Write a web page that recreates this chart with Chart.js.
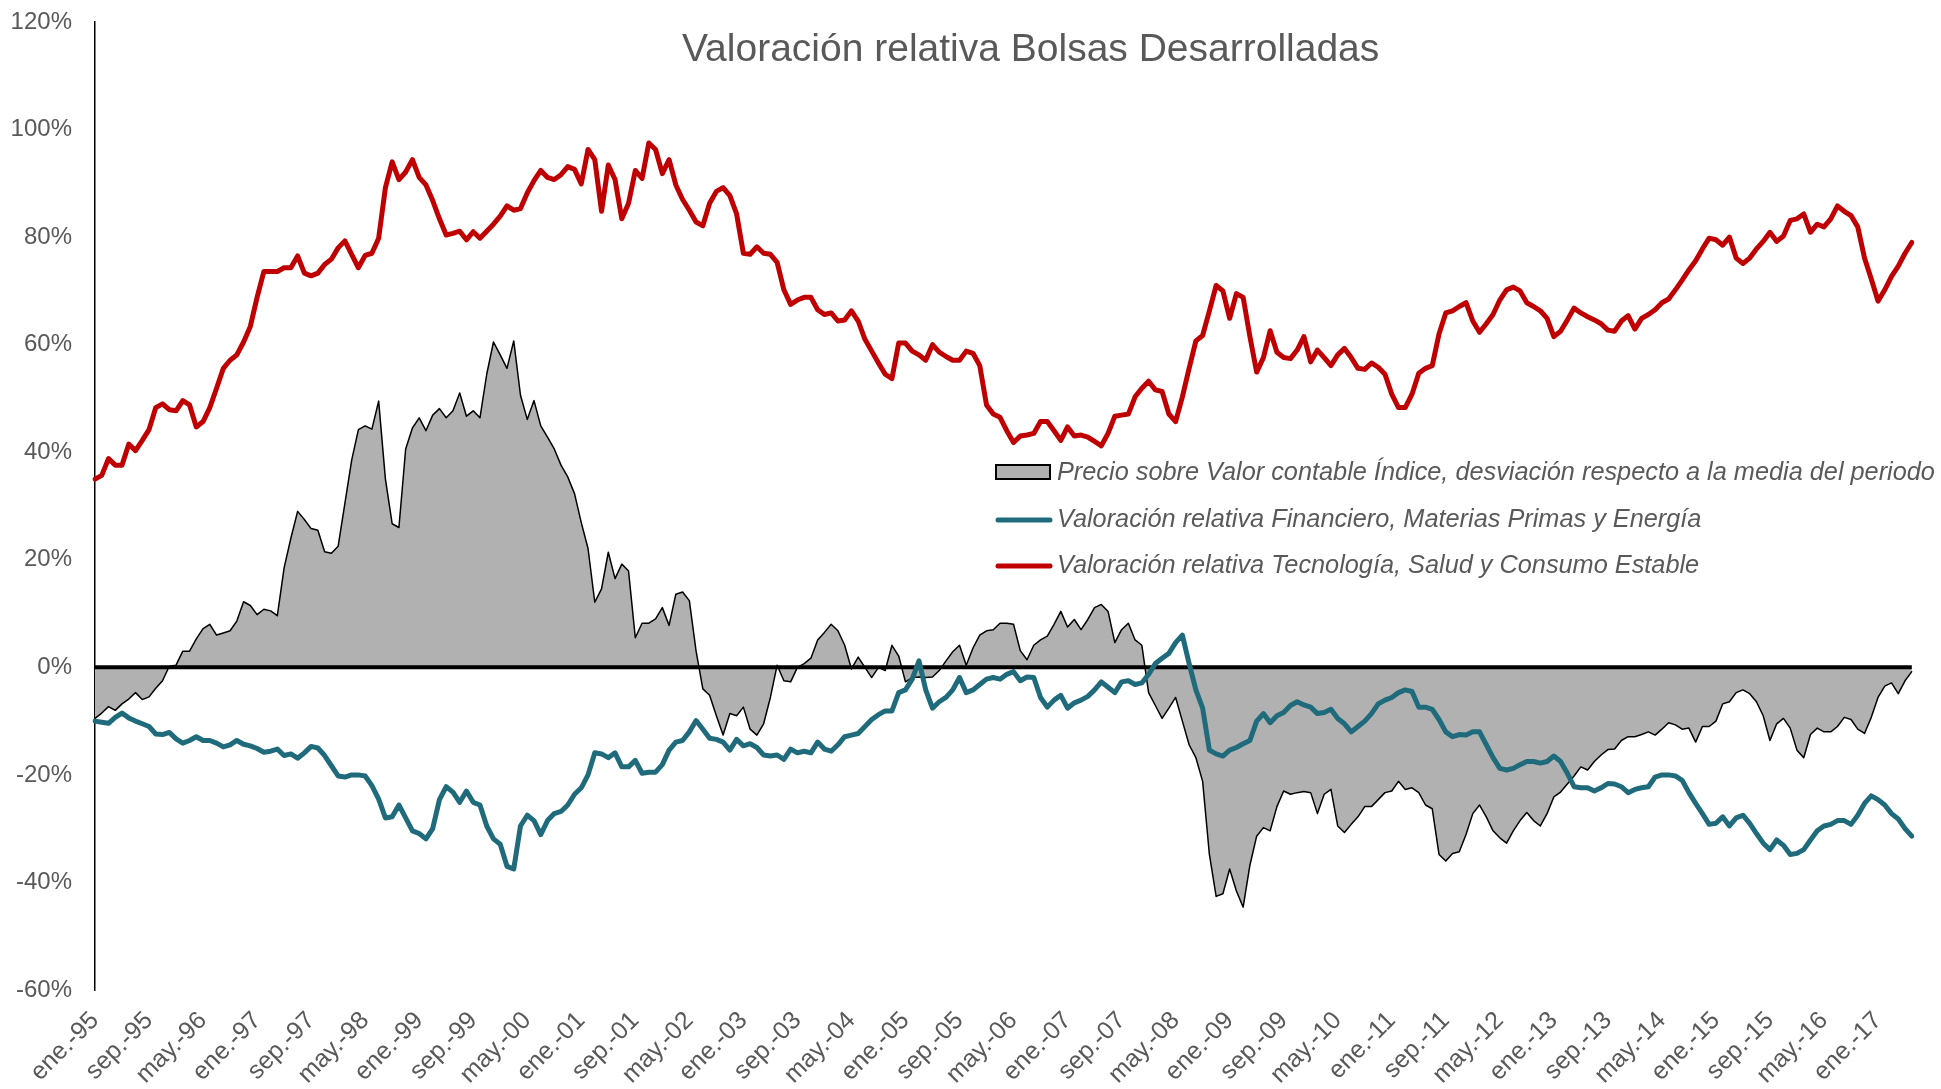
<!DOCTYPE html>
<html>
<head>
<meta charset="utf-8">
<script src="https://cdn.jsdelivr.net/npm/chart.js@4.4.1/dist/chart.umd.min.js"></script>
<style>
  html, body { margin: 0; padding: 0; background: #fff; }
  #wrap { width: 1941px; height: 1089px; }
</style>
</head>
<body>
<div id="wrap"><canvas id="chart" width="1941" height="1089"></canvas></div>
<script>
// Valoración relativa Bolsas Desarrolladas - monthly, ene-95 .. jun-17

const monthNames = ['ene.', 'feb.', 'mar.', 'abr.', 'may.', 'jun.', 'jul.', 'ago.', 'sep.', 'oct.', 'nov.', 'dic.'];
const firstYear = 1995;
const nMonths = 270;   // ene-95 .. jun-17
const labelEvery = 8;  // ene-95, sep-95, may-96, ...

// Precio sobre Valor contable Índice, desviación respecto a la media (%)
const pbvDeviation = [
  -9.5, -8.5, -7.3, -8, -6.8, -5.9, -4.7, -6, -5.5, -3.9,
  -2.5, 0.2, 0.4, 3, 3, 5.3, 7.2, 8, 6, 6.4,
  6.8, 8.6, 12.2, 11.5, 9.8, 10.8, 10.5, 9.6, 18.5, 24,
  29, 27.5, 25.8, 25.5, 21.5, 21.2, 22.5, 30.5, 38.5, 44.2,
  44.9, 44.3, 49.5, 35, 26.7, 26, 40.6, 44.5, 46.4, 44,
  46.9, 48.1, 46.4, 47.7, 51, 46.7, 47.7, 46.4, 54.5, 60.5,
  58.1, 55.6, 60.7, 50.6, 46.1, 49.6, 44.9, 42.8, 40.6, 37.6,
  35.4, 32.3, 26.9, 22.1, 12.1, 14.6, 21.4, 16.5, 19.2, 17.9,
  5.5, 8.2, 8.2, 9, 11.1, 7.8, 13.6, 14, 12.4, 3,
  -4, -5.2, -9, -12.6, -8.6, -9, -7.4, -11.5, -12.6, -10.5,
  -5.6, 0.4, -2.5, -2.7, 0, 0.7, 1.7, 5.1, 6.5, 8,
  6.8, 4.1, -0.3, 1.9, 0, -1.9, 0, -0.6, 4.1, 2.1,
  -2.7, -1.9, -1.8, -1.9, -1.8, -0.6, 1.2, 2.9, 4.1, 0.4,
  3.6, 6, 6.8, 7, 8.2, 8.2, 8, 3.1, 1.4, 4.1,
  5.1, 5.8, 8, 10.4, 7.5, 8.9, 7, 8.9, 11.1, 11.7,
  10.4, 4.6, 7, 8.2, 5.1, 4.1, -4.7, -7.1, -9.5, -7.6,
  -5.6, -10, -14.4, -16.8, -21.2, -34.8, -42.6, -42.1, -37.5, -41.6,
  -44.6, -36.8, -31.4, -29.8, -30.4, -25.9, -23, -23.6, -23.3, -23.1,
  -23.3, -27.2, -23.6, -22.7, -29.5, -30.7, -29.2, -27.8, -25.9, -25.9,
  -24.6, -23.3, -23, -21.2, -22.7, -22.4, -23.3, -25.6, -26.3, -34.8,
  -36, -34.6, -34.3, -31.1, -27.2, -25.6, -27.8, -30.4, -31.7, -32.7,
  -30.4, -28.5, -27, -28.5, -29.5, -27.2, -24.1, -23.2, -21.7, -20.2,
  -18.5, -19.1, -17.5, -16.3, -15.3, -15.2, -13.6, -12.9, -12.9, -12.5,
  -12, -12.6, -11.5, -10.3, -10.7, -11.5, -11.3, -13.9, -11, -11,
  -10, -6.8, -6.4, -4.7, -4.2, -4.9, -6.4, -9, -13.6, -10.5,
  -9.5, -11.3, -15.4, -16.8, -12.5, -11.3, -12, -12, -11, -9.3,
  -9.7, -11.5, -12.3, -9.3, -5.6, -3.5, -2.9, -4.9, -2.5, -0.8
];

// Valoración relativa Financiero, Materias Primas y Energía (%)
const finMatEnergia = [
  -10, -10.2, -10.4, -9.3, -8.5, -9.4, -10, -10.5, -11, -12.4,
  -12.5, -12.1, -13.3, -14.1, -13.6, -12.9, -13.6, -13.6, -14.1, -14.8,
  -14.4, -13.6, -14.3, -14.6, -15.1, -15.8, -15.6, -15.2, -16.4, -16.1,
  -16.9, -15.9, -14.7, -15, -16.4, -18.3, -20.2, -20.4, -20, -20,
  -20.2, -22, -24.5, -28, -27.8, -25.6, -28, -30.4, -30.9, -31.9,
  -30, -24.6, -22.2, -23.2, -25.1, -23, -25.1, -25.6, -29.5, -31.9,
  -32.9, -37, -37.5, -29.5, -27.5, -28.5, -31.1, -28.5, -27.2, -26.8,
  -25.6, -23.6, -22.4, -20, -15.9, -16.1, -16.8, -15.9, -18.5, -18.5,
  -17.3, -19.7, -19.5, -19.5, -18.1, -15.4, -13.9, -13.6, -12, -9.9,
  -11.5, -13.2, -13.4, -13.9, -15.4, -13.4, -14.6, -14.2, -14.9, -16.3,
  -16.5, -16.3, -17.1, -15.2, -15.9, -15.6, -15.9, -13.9, -15.2, -15.6,
  -14.4, -12.9, -12.6, -12.3, -11, -9.7, -8.8, -8.1, -8.1, -4.7,
  -4.2, -2.2, 1.2, -4.2, -7.6, -6.4, -5.6, -4.2, -1.9, -4.7,
  -4.2, -3.2, -2.2, -1.9, -2.2, -1.3, -0.8, -2.5, -1.8, -1.9,
  -5.6, -7.4, -6.1, -5.2, -7.6, -6.6, -6.1, -5.4, -4.2, -2.7,
  -3.7, -4.7, -2.7, -2.5, -3.2, -2.9, -1.3, 0.7, 1.7, 2.6,
  4.6, 6, 0.7, -4.2, -7.6, -15.4, -16.1, -16.5, -15.4, -14.9,
  -14.2, -13.6, -10, -8.6, -10.3, -9, -8.4, -7.1, -6.4, -7,
  -7.4, -8.6, -8.4, -7.8, -9.5, -10.5, -12, -11, -10, -8.6,
  -6.8, -6.1, -5.6, -4.7, -4.2, -4.5, -7.4, -7.4, -7.8, -9.7,
  -12, -12.9, -12.5, -12.6, -12, -12, -14.4, -16.8, -18.8, -19.1,
  -18.8, -18.1, -17.5, -17.5, -17.8, -17.5, -16.5, -17.5, -19.7, -22.2,
  -22.4, -22.4, -23, -22.4, -21.6, -21.7, -22.2, -23.3, -22.7, -22.4,
  -22.2, -20.4, -20, -20, -20.2, -21, -23.3, -25.3, -27.2, -29.2,
  -29, -27.8, -29.5, -28, -27.5, -29, -30.9, -32.7, -33.9, -32.1,
  -33.1, -34.8, -34.6, -33.9, -32.1, -30.4, -29.5, -29.2, -28.5, -28.5,
  -29.2, -27.5, -25.3, -23.9, -24.6, -25.6, -27.2, -28.2, -30, -31.4
];

// Valoración relativa Tecnología, Salud y Consumo Estable (%)
const tecSaludConsumo = [
  35, 35.7, 38.8, 37.6, 37.6, 41.5, 40.3, 42.2, 44.2, 48.3,
  49, 47.9, 47.7, 49.6, 48.8, 44.7, 45.7, 48.3, 51.9, 55.6,
  57.1, 58.1, 60.5, 63.4, 68.8, 73.6, 73.6, 73.6, 74.3, 74.3,
  76.5, 73.3, 72.8, 73.3, 74.9, 75.9, 78, 79.3, 76.8, 74.3,
  76.6, 77, 79.8, 89.2, 94, 90.7, 92.1, 94.4, 91.1, 89.7,
  86.8, 83.4, 80.4, 80.7, 81.1, 79.5, 81, 79.8, 81.1, 82.4,
  83.9, 85.8, 85, 85.3, 88.2, 90.5, 92.4, 91.1, 90.7, 91.6,
  93.1, 92.6, 89.9, 96.3, 94.4, 84.8, 93.4, 90.7, 83.4, 86.3,
  92.4, 90.9, 97.5, 96.3, 91.8, 94.4, 89.7, 87, 85, 82.8,
  82.1, 86.3, 88.5, 89.2, 87.7, 84.3, 77, 76.8, 78.2, 77,
  76.8, 75.3, 70.2, 67.5, 68.3, 68.8, 68.8, 66.5, 65.6, 65.9,
  64.4, 64.6, 66.3, 64.4, 61, 58.8, 56.6, 54.5, 53.7, 60.3,
  60.3, 58.8, 58.1, 57.1, 60, 58.6, 57.8, 57.1, 57.1, 58.8,
  58.4, 56.1, 48.8, 47.1, 46.5, 44, 41.8, 43, 43.2, 43.5,
  45.7, 45.7, 44, 42.2, 44.7, 43, 43.2, 42.8, 42, 41.2,
  43.5, 46.7, 46.9, 47.1, 50.3, 51.9, 53.2, 51.6, 51.3, 47.1,
  45.7, 50.3, 55.6, 60.7, 61.7, 66.3, 71, 70, 64.9, 69.5,
  68.8, 61.5, 54.9, 57.6, 62.6, 58.6, 57.6, 57.4, 59, 61.5,
  56.8, 59, 57.6, 56.1, 58.1, 59.3, 57.6, 55.6, 55.4, 56.6,
  55.8, 54.5, 50.8, 48.3, 48.3, 50.8, 54.7, 55.6, 56.1, 62,
  65.9, 66.3, 67.1, 67.8, 64.4, 62.3, 63.9, 65.6, 68.3, 70.2,
  70.7, 70, 67.8, 67.1, 66.3, 64.9, 61.5, 62.5, 64.6, 66.8,
  65.9, 65.2, 64.6, 63.9, 62.7, 62.5, 64.4, 65.4, 62.9, 64.9,
  65.6, 66.5, 67.8, 68.5, 70.2, 72, 73.9, 75.6, 77.8, 79.8,
  79.5, 78.5, 80, 76.1, 75.1, 76.1, 77.8, 79.2, 80.9, 79.2,
  80.2, 83.1, 83.4, 84.3, 80.9, 82.4, 81.9, 83.4, 85.8, 84.8,
  84, 81.9, 76.1, 72.2, 68.1, 70.2, 72.7, 74.6, 77, 79
];

const seriesNames = [
  'Precio sobre Valor contable Índice, desviación respecto a la media del periodo',
  'Valoración relativa Financiero, Materias Primas y Energía',
  'Valoración relativa Tecnología, Salud y Consumo Estable'
];

const yTicks = [-60, -40, -20, 0, 20, 40, 60, 80, 100, 120];

// month labels "ene.-95", "feb.-95", ...
const categories = [];
for (let i = 0; i < nMonths; i++) {
  const yy = String((firstYear + Math.floor(i / 12)) % 100).padStart(2, '0');
  categories.push(monthNames[i % 12] + '-' + yy);
}

const FONT = '"Liberation Sans", Arial, sans-serif';
const TEXT_GREY = '#595959';

// zero line over the grey area, title and legend inside the plot
const overlay = {
  id: 'overlay',
  afterDatasetDraw(chart, args) {
    if (args.index !== 0) return;
    const { ctx, chartArea: a } = chart;
    const y0 = chart.scales.y.getPixelForValue(0);
    ctx.save();
    ctx.strokeStyle = '#000';
    ctx.lineWidth = 4;
    ctx.beginPath();
    ctx.moveTo(a.left, y0);
    ctx.lineTo(a.right, y0);
    ctx.stroke();
    ctx.restore();
  },
  afterDraw(chart) {
    const { ctx, chartArea: a } = chart;
    ctx.save();

    // title
    ctx.fillStyle = TEXT_GREY;
    ctx.font = '39px ' + FONT;
    ctx.textAlign = 'center';
    ctx.textBaseline = 'alphabetic';
    ctx.fillText('Valoración relativa Bolsas Desarrolladas', a.left + a.width * 0.515, a.top + 39);

    // legend
    const sx = a.left + 901, sw = 54, tx = a.left + 962;
    const rows = [a.top + 450, a.top + 497, a.top + 543];
    ctx.font = 'italic 25.3px ' + FONT;
    ctx.textAlign = 'left';
    ctx.textBaseline = 'middle';
    chart.data.datasets.forEach((ds, i) => {
      const ry = rows[i];
      if (ds.fill) {
        ctx.fillStyle = ds.backgroundColor;
        ctx.fillRect(sx, ry - 7, sw, 14);
        ctx.strokeStyle = ds.borderColor;
        ctx.lineWidth = 2;
        ctx.strokeRect(sx, ry - 7, sw, 14);
      } else {
        ctx.strokeStyle = ds.borderColor;
        ctx.lineWidth = 5;
        ctx.lineCap = 'round';
        ctx.beginPath();
        ctx.moveTo(sx + 2, ry + 1);
        ctx.lineTo(sx + sw, ry + 1);
        ctx.stroke();
      }
      ctx.fillStyle = TEXT_GREY;
      ctx.fillText(ds.label, tx, ry + 1);
    });
    ctx.restore();
  }
};

new Chart(document.getElementById('chart'), {
  type: 'line',
  data: {
    labels: categories,
    datasets: [
      {
        label: seriesNames[0],
        data: pbvDeviation,
        fill: 'origin',
        backgroundColor: '#b1b1b1',
        borderColor: '#000000',
        borderWidth: 1.5,
        order: 3
      },
      {
        label: seriesNames[1],
        data: finMatEnergia,
        fill: false,
        borderColor: '#1f6b7b',
        borderWidth: 5,
        order: 2
      },
      {
        label: seriesNames[2],
        data: tecSaludConsumo,
        fill: false,
        borderColor: '#c00000',
        borderWidth: 5,
        order: 1
      }
    ]
  },
  options: {
    responsive: false,
    animation: false,
    devicePixelRatio: 1,
    layout: { padding: { left: 10, right: 0, top: 22, bottom: 0 } },
    elements: {
      point: { radius: 0, hoverRadius: 0 },
      line: { tension: 0, borderJoinStyle: 'round', borderCapStyle: 'round' }
    },
    plugins: {
      legend: { display: false },
      title: { display: false },
      tooltip: { enabled: false }
    },
    scales: {
      x: {
        offset: false,
        grid: { display: false },
        border: { display: false },
        afterFit: s => { s.height = 99; },
        ticks: {
          autoSkip: false,
          minRotation: 45,
          maxRotation: 45,
          padding: 8,
          color: TEXT_GREY,
          font: { family: FONT, size: 25 },
          callback: function (v, i) { return i % labelEvery === 0 ? categories[i] : ''; }
        }
      },
      y: {
        min: yTicks[0],
        max: yTicks[yTicks.length - 1],
        afterFit: s => { s.width = 85; s.paddingTop = 0; s.paddingBottom = 0; },
        afterBuildTicks: s => { s.ticks = yTicks.map(v => ({ value: v })); },
        grid: { display: false, drawTicks: false },
        border: { display: true, color: '#000', width: 1.5 },
        ticks: {
          padding: 23,
          color: TEXT_GREY,
          font: { family: FONT, size: 24 },
          callback: v => v + '%'
        }
      }
    }
  },
  plugins: [overlay]
});
</script>
</body>
</html>
